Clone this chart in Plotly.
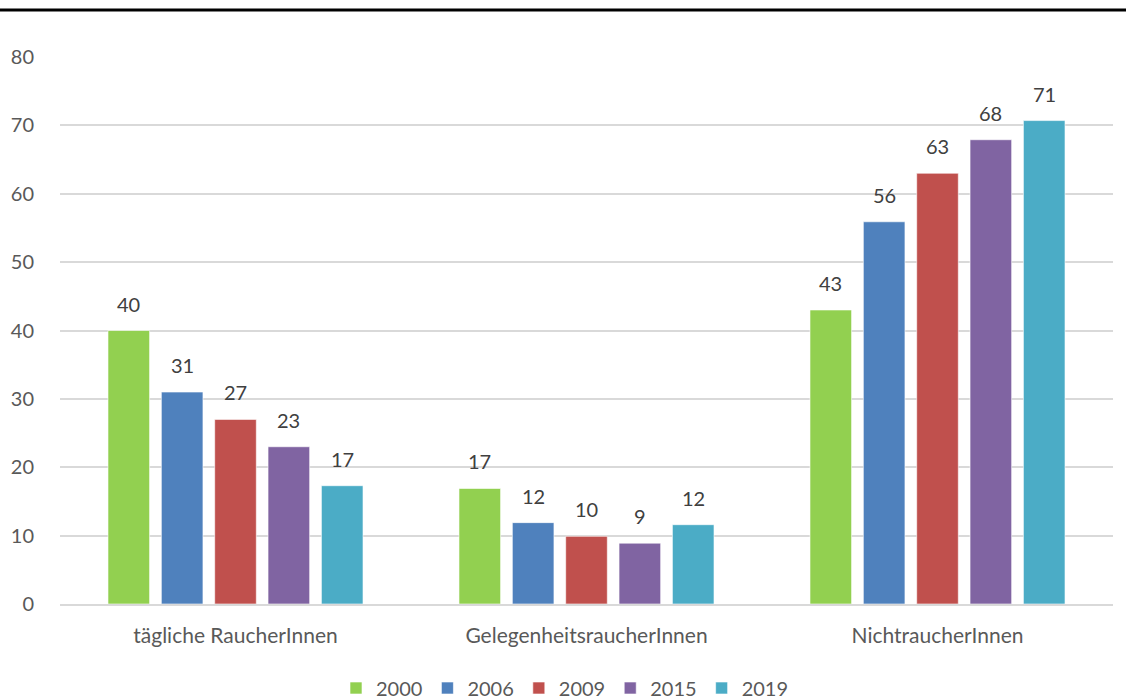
import plotly.graph_objects as go

# Anteil nach Rauchstatus, Erhebungsjahre 2000-2019 (in %)
categories = ["tägliche RaucherInnen", "GelegenheitsraucherInnen", "NichtraucherInnen"]
years = ["2000", "2006", "2009", "2015", "2019"]
values_2000 = [40.0, 16.9, 43.0]
values_2006 = [31.0, 11.9, 55.9]
values_2009 = [27.0, 9.9, 63.0]
values_2015 = [23.0, 8.9, 67.9]
values_2019 = [17.3, 11.6, 70.7]
y_ticks = [0, 10, 20, 30, 40, 50, 60, 70, 80]

series = [values_2000, values_2006, values_2009, values_2015, values_2019]
colors = ["#92d050", "#4f81bd", "#c0504d", "#8064a2", "#4bacc6"]

FONT = "Lato, 'Open Sans', sans-serif"
W, H = 1126, 700
M_L, M_R, M_T, M_B = 60, 13, 57, 96
BARGAP = 0.24

plot_w = W - M_L - M_R
plot_h = H - M_T - M_B

fig = go.Figure()
for year, vals, col in zip(years, series, colors):
    fig.add_trace(go.Bar(
        x=categories, y=vals, name=year,
        marker=dict(color=col, line=dict(color="rgba(255,255,255,0.6)", width=1)),
        hoverinfo="x+y+name",
    ))

# value labels above each bar, shifted to the bar's slot within the group
slot = plot_w / len(categories) * (1 - BARGAP) / len(years)
annotations = []
for i, vals in enumerate(series):
    for cat, v in zip(categories, vals):
        annotations.append(dict(
            x=cat, y=v, xref="x", yref="y", text=f"{v:.0f}",
            showarrow=False, yanchor="bottom", xshift=(i - 2) * slot, yshift=13,
            font=dict(family=FONT, size=20, color="#404040"),
        ))

line_y = 1 + (M_T - 10) / plot_h

fig.update_layout(
    width=W, height=H,
    margin=dict(l=M_L, r=M_R, t=M_T, b=M_B),
    paper_bgcolor="white", plot_bgcolor="white",
    barmode="group", bargap=BARGAP, bargroupgap=0.22,
    font=dict(family=FONT, size=20, color="#595959"),
    showlegend=True,
    legend=dict(orientation="h", xref="container", yref="container",
                x=565 / W, xanchor="center", y=(H - 688) / H, yanchor="middle",
                font=dict(size=20, color="#595959"), itemwidth=30,
                traceorder="normal"),
    annotations=annotations,
    shapes=[dict(type="line", xref="paper", yref="paper",
                 x0=-M_L / plot_w, x1=1 + M_R / plot_w, y0=line_y, y1=line_y,
                 line=dict(color="black", width=3))],
)
fig.update_yaxes(range=[0, 80], tickvals=y_ticks, showgrid=True,
                 gridcolor="#d9d9d9", gridwidth=1.5, zeroline=False, showline=False,
                 ticks="", ticklabelstandoff=25, tickfont=dict(size=20, color="#595959"))
fig.update_xaxes(showline=True, linecolor="#d9d9d9", linewidth=1.5, ticks="",
                 ticklabelstandoff=12, tickfont=dict(size=21, color="#595959"))

fig.write_html("out.html")
